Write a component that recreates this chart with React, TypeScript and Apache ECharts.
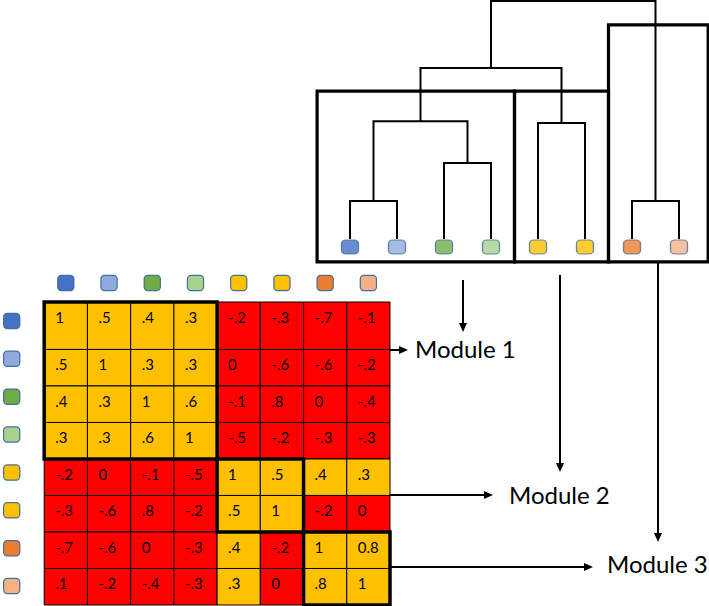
import React, { useEffect, useRef } from "react";
import * as echarts from "echarts";

// ---------- data ----------
const nodeNames = ["n1", "n2", "n3", "n4", "n5", "n6", "n7", "n8"];
const nodeColors = ["#4472C4", "#8FAADC", "#70AD47", "#A9D18E", "#FFC000", "#FFC000", "#ED7D31", "#F4B183"];

const matrixLabels = [
  ["1", ".5", ".4", ".3", "-.2", "-.3", "-.7", "-.1"],
  [".5", "1", ".3", ".3", "0", "-.6", "-.6", "-.2"],
  [".4", ".3", "1", ".6", "-.1", ".8", "0", "-.4"],
  [".3", ".3", ".6", "1", "-.5", "-.2", "-.3", "-.3"],
  ["-.2", "0", "-.1", "-.5", "1", ".5", ".4", ".3"],
  ["-.3", "-.6", ".8", "-.2", ".5", "1", "-.2", "0"],
  ["-.7", "-.6", "0", "-.3", ".4", "-.2", "1", "0.8"],
  [".1", "-.2", "-.4", "-.3", ".3", "0", ".8", "1"],
];

// 1 = yellow (same-module style), 0 = red
const cellClass = [
  [1, 1, 1, 1, 0, 0, 0, 0],
  [1, 1, 1, 1, 0, 0, 0, 0],
  [1, 1, 1, 1, 0, 0, 0, 0],
  [1, 1, 1, 1, 0, 0, 0, 0],
  [0, 0, 0, 0, 1, 1, 1, 1],
  [0, 0, 0, 0, 1, 1, 0, 0],
  [0, 0, 0, 0, 1, 0, 1, 1],
  [0, 0, 0, 0, 1, 0, 1, 1],
];

// dendrogram merges: [left node, right node, height]; leaves are 0..7, merges 8..
const merges = [
  [0, 1, 1.0],
  [2, 3, 2.0],
  [8, 9, 3.1],
  [4, 5, 3.05],
  [10, 11, 4.5],
  [6, 7, 1.0],
  [12, 13, 6.26],
];

const moduleNames = ["Module 1", "Module 2", "Module 3"];
const moduleFirst = [0, 4, 6];
const moduleLast = [3, 5, 7];
const moduleCut = [3.89, 3.89, 5.63];

// ---------- layout ----------
const YELLOW = "#FFC000";
const RED = "#FF0000";
const ROW_WEIGHTS = [1.3, 1, 1, 1, 1, 1, 1, 1];
const rowTop: number[] = [];
ROW_WEIGHTS.reduce((acc, w, i) => {
  rowTop[i] = acc;
  return acc + w;
}, 0);
const ROW_TOTAL = ROW_WEIGHTS.reduce((a, b) => a + b, 0);
const FONT = "Lato, 'Open Sans', sans-serif";

type Cell = { col: number; row: number; value: number; label: string; cls: number };
const cells: Cell[] = [];
matrixLabels.forEach((row, r) =>
  row.forEach((lab, c) =>
    cells.push({ col: c, row: r, value: parseFloat(lab), label: lab, cls: cellClass[r][c] })
  )
);

const nodes: { x: number; h: number }[] = nodeNames.map((_, i) => ({ x: i, h: 0 }));
merges.forEach(([l, r, h]) => nodes.push({ x: (nodes[l].x + nodes[r].x) / 2, h }));
const linkData = merges.map(([l, r, h]) => [nodes[l].x, nodes[l].h, nodes[r].x, nodes[r].h, h]);

const dendroBoxData = moduleNames.map((_, i) => [
  moduleFirst[i] === 0 ? -0.7 : moduleFirst[i] - 0.5,
  moduleLast[i] === nodeNames.length - 1 ? moduleLast[i] + 0.62 : moduleLast[i] + 0.5,
  moduleCut[i],
]);

const rich: Record<string, any> = {};
nodeColors.forEach((c, i) => {
  rich["n" + i] = {
    width: 15,
    height: 14,
    lineHeight: 14,
    backgroundColor: c,
    borderColor: "#41719C",
    borderWidth: 1.2,
    borderRadius: 3,
  };
});

function arrow(x1: number, y1: number, x2: number, y2: number): any[] {
  const len = Math.hypot(x2 - x1, y2 - y1);
  const ux = (x2 - x1) / len;
  const uy = (y2 - y1) / len;
  const hl = 9;
  const hw = 4;
  const bx = x2 - ux * hl;
  const by = y2 - uy * hl;
  return [
    { type: "line", shape: { x1, y1, x2: bx, y2: by }, style: { stroke: "#000", lineWidth: 2 } },
    {
      type: "polygon",
      shape: {
        points: [
          [x2, y2],
          [bx - uy * hw, by + ux * hw],
          [bx + uy * hw, by - ux * hw],
        ],
      },
      style: { fill: "#000" },
    },
  ];
}

export default function App() {
  const ref = useRef<HTMLDivElement>(null);
  useEffect(() => {
    if (!ref.current) return;
    const chart = echarts.init(ref.current, undefined, { renderer: "svg" });

    const option: any = {
      animation: false,
      backgroundColor: "#fff",
      grid: [
        { left: 41, right: 319, top: 302, bottom: 1 },
        { left: 350, right: 30, top: 1, bottom: 367 },
      ],
      xAxis: [
        {
          type: "category",
          gridIndex: 0,
          position: "top",
          data: nodeNames,
          axisLine: { show: false },
          axisTick: { show: false },
          splitLine: { show: false },
          axisLabel: { margin: 12, formatter: (_v: string, i: number) => `{n${i}| }`, rich },
        },
        { type: "value", gridIndex: 0, min: 0, max: 8, show: false },
        { type: "value", gridIndex: 1, min: 0, max: 7, show: false },
      ],
      yAxis: [
        {
          type: "category",
          gridIndex: 0,
          inverse: true,
          data: nodeNames,
          axisLine: { show: false },
          axisTick: { show: false },
          splitLine: { show: false },
          axisLabel: { margin: 25, formatter: (_v: string, i: number) => `{n${i}| }`, rich },
        },
        { type: "value", gridIndex: 0, min: 0, max: ROW_TOTAL, inverse: true, show: false },
        { type: "value", gridIndex: 1, min: 0, max: 6.26, show: false },
      ],
      series: [
        {
          type: "custom",
          name: "matrix",
          xAxisIndex: 1,
          yAxisIndex: 1,
          data: cells.map((c) => [c.col, c.row, c.value]),
          renderItem: (params: any, api: any) => {
            const cell = cells[params.dataIndex];
            const c = api.value(0);
            const r = api.value(1);
            const p0 = api.coord([c, rowTop[r]]);
            const p1 = api.coord([c + 1, rowTop[r] + ROW_WEIGHTS[r]]);
            const x = Math.min(p0[0], p1[0]);
            const y = Math.min(p0[1], p1[1]);
            const w = Math.abs(p1[0] - p0[0]);
            const h = Math.abs(p1[1] - p0[1]);
            return {
              type: "group",
              children: [
                {
                  type: "rect",
                  shape: { x, y, width: w, height: h },
                  style: { fill: cell.cls ? YELLOW : RED, stroke: "#000", lineWidth: 1 },
                },
                {
                  type: "text",
                  x: x + 11,
                  y: y + 15,
                  style: {
                    text: cell.label,
                    fill: "#000",
                    fontSize: 15,
                    fontFamily: FONT,
                    verticalAlign: "middle",
                    align: "left",
                  },
                },
              ],
            };
          },
          z: 2,
        },
        {
          type: "custom",
          name: "matrix modules",
          xAxisIndex: 1,
          yAxisIndex: 1,
          data: moduleNames.map((_, i) => [moduleFirst[i], moduleLast[i]]),
          renderItem: (_params: any, api: any) => {
            const f = api.value(0);
            const l = api.value(1);
            const p0 = api.coord([f, rowTop[f]]);
            const p1 = api.coord([l + 1, rowTop[l] + ROW_WEIGHTS[l]]);
            return {
              type: "rect",
              shape: {
                x: Math.min(p0[0], p1[0]),
                y: Math.min(p0[1], p1[1]),
                width: Math.abs(p1[0] - p0[0]),
                height: Math.abs(p1[1] - p0[1]),
              },
              style: { fill: "none", stroke: "#000", lineWidth: 3.5 },
            };
          },
          z: 3,
        },
        {
          type: "custom",
          name: "dendrogram",
          xAxisIndex: 2,
          yAxisIndex: 2,
          data: linkData,
          renderItem: (_params: any, api: any) => {
            const x1 = api.value(0);
            const h1 = api.value(1);
            const x2 = api.value(2);
            const h2 = api.value(3);
            const hm = api.value(4);
            return {
              type: "polyline",
              shape: {
                points: [api.coord([x1, h1]), api.coord([x1, hm]), api.coord([x2, hm]), api.coord([x2, h2])],
              },
              style: { fill: "none", stroke: "#000", lineWidth: 2 },
            };
          },
          z: 2,
        },
        {
          type: "custom",
          name: "dendrogram modules",
          xAxisIndex: 2,
          yAxisIndex: 2,
          data: dendroBoxData,
          renderItem: (_params: any, api: any) => {
            const p0 = api.coord([api.value(0), api.value(2)]);
            const p1 = api.coord([api.value(1), -0.6]);
            return {
              type: "rect",
              shape: {
                x: Math.min(p0[0], p1[0]),
                y: Math.min(p0[1], p1[1]),
                width: Math.abs(p1[0] - p0[0]),
                height: Math.abs(p1[1] - p0[1]),
              },
              style: { fill: "none", stroke: "#000", lineWidth: 3.2 },
            };
          },
          z: 3,
        },
        {
          type: "scatter",
          name: "leaves",
          xAxisIndex: 2,
          yAxisIndex: 2,
          clip: false,
          symbol: "roundRect",
          symbolSize: [17, 14],
          symbolOffset: [0, 8],
          data: nodeNames.map((_, i) => ({
            value: [i, 0],
            itemStyle: { color: nodeColors[i], borderColor: "#41719C", borderWidth: 1.2 },
          })),
          z: 4,
        },
      ],
      graphic: [
        ...arrow(463, 280, 463, 332),
        ...arrow(390, 350, 408, 350),
        ...arrow(560, 275, 560, 472),
        ...arrow(302, 495, 493, 495),
        ...arrow(658, 262, 658, 542),
        ...arrow(390, 567, 593, 567),
        {
          type: "text",
          left: 415,
          top: 336,
          style: { text: moduleNames[0], fill: "#000", fontSize: 24, fontFamily: FONT },
        },
        {
          type: "text",
          left: 509,
          top: 482,
          style: { text: moduleNames[1], fill: "#000", fontSize: 24, fontFamily: FONT },
        },
        {
          type: "text",
          left: 607,
          top: 551,
          style: { text: moduleNames[2], fill: "#000", fontSize: 24, fontFamily: FONT },
        },
      ],
    };
    chart.setOption(option);
    return () => chart.dispose();
  }, []);
  return (
    <div
      ref={ref}
      style={{ position: "absolute", left: 0, top: 0, width: 709, height: 606, background: "#fff" }}
    />
  );
}
